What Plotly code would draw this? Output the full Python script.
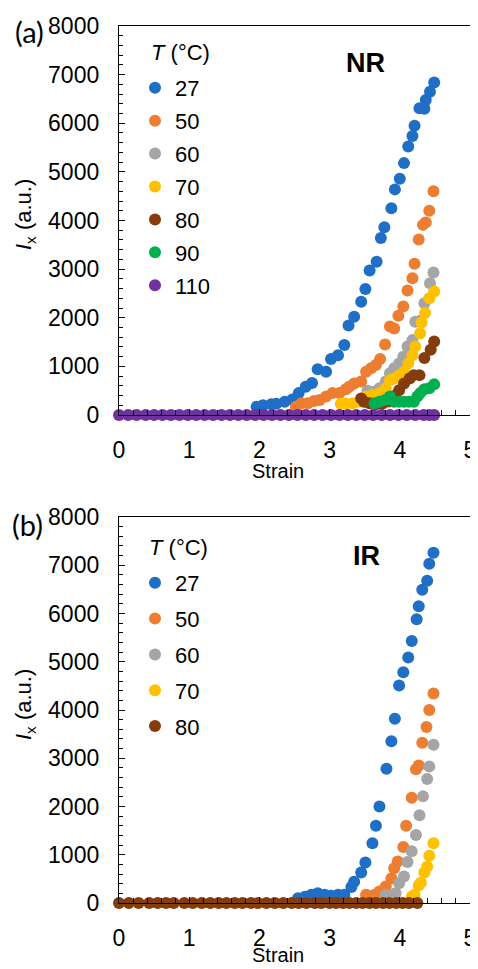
import plotly.graph_objects as go

# The page body has an 8 px default margin, so the figure is placed 8 px in from the top-left.
PAGE_W, PAGE_H = 478, 969
OFF = 8
W, H = PAGE_W - OFF, PAGE_H - OFF

# ---------------- data: (a) NR ----------------
nr_27_strain = [1.96, 2.05, 2.17, 2.24, 2.36, 2.47, 2.56, 2.66, 2.75, 2.83, 2.95, 3.02, 3.12, 3.21, 3.27, 3.35, 3.45,
                3.51, 3.57, 3.67, 3.73, 3.78, 3.88, 3.93, 4.00, 4.06, 4.12, 4.18, 4.21, 4.28, 4.35, 4.37, 4.43, 4.49]
nr_27_ix = [170, 200, 220, 230, 270, 320, 450, 580, 660, 940, 890, 1150, 1230, 1440, 1840, 2020, 2330,
            2590, 2970, 3150, 3640, 3860, 4250, 4640, 4860, 5180, 5520, 5740, 5950, 6310, 6300, 6480, 6650, 6840]

nr_50_strain = [2.52, 2.60, 2.69, 2.78, 2.86, 2.95, 3.04, 3.14, 3.23, 3.28, 3.35, 3.45, 3.52, 3.59, 3.66, 3.72, 3.79,
                3.86, 3.92, 3.98, 4.05, 4.11, 4.18, 4.21, 4.27, 4.33, 4.37, 4.42, 4.48]
nr_50_ix = [170, 240, 240, 290, 310, 380, 450, 450, 530, 580, 650, 690, 890, 960, 1030, 1150, 1450,
            1820, 1780, 2040, 2230, 2560, 2810, 3110, 3610, 3910, 3960, 4200, 4600]

nr_60_strain = [3.45, 3.54, 3.62, 3.71, 3.80, 3.86, 3.92, 3.99, 4.05, 4.11, 4.18, 4.22, 4.29, 4.35, 4.43, 4.48]
nr_60_ix = [330, 500, 480, 550, 690, 860, 960, 1060, 1200, 1410, 1540, 1920, 1940, 2300, 2710, 2930]

nr_70_strain = [3.16, 3.23, 3.33, 3.42, 3.52, 3.61, 3.71, 3.80, 3.86, 3.92, 3.99, 4.06, 4.12, 4.18, 4.22, 4.29,
                4.31, 4.36, 4.42, 4.49]
nr_70_ix = [230, 230, 240, 270, 380, 410, 450, 550, 720, 750, 820, 890, 1060, 1230, 1410, 1680,
            1900, 2100, 2400, 2540]

nr_80_strain = [3.45, 3.49, 3.57, 3.66, 3.75, 3.84, 3.92, 3.99, 4.06, 4.14, 4.20, 4.28, 4.35, 4.44, 4.49]
nr_80_ix = [340, 270, 240, 220, 230, 280, 390, 510, 650, 750, 820, 820, 1170, 1340, 1510]

nr_90_strain = [3.64, 3.71, 3.79, 3.86, 3.92, 3.99, 4.06, 4.13, 4.20, 4.25, 4.29, 4.35, 4.42, 4.49]
nr_90_ix = [240, 270, 310, 380, 270, 270, 270, 270, 270, 380, 450, 530, 550, 630]

nr_110_strain = [0.00, 0.13, 0.25, 0.38, 0.50, 0.62, 0.74, 0.86, 0.98, 1.10, 1.22, 1.34, 1.46, 1.58, 1.70, 1.82,
                 1.94, 2.06, 2.18, 2.30, 2.42, 2.54, 2.66, 2.78, 2.90, 3.02, 3.14, 3.26, 3.38, 3.50, 3.62, 3.74,
                 3.86, 3.98, 4.10, 4.22, 4.34, 4.42, 4.49]
nr_110_ix = [0] * len(nr_110_strain)

# ---------------- data: (b) IR ----------------
ir_27_strain = [2.55, 2.65, 2.74, 2.83, 2.93, 3.02, 3.12, 3.21, 3.31, 3.35, 3.45, 3.51, 3.61, 3.66, 3.71, 3.81,
                3.88, 3.93, 3.99, 4.05, 4.12, 4.17, 4.24, 4.27, 4.32, 4.39, 4.42, 4.48]
ir_27_ix = [100, 130, 170, 200, 170, 150, 170, 170, 330, 440, 630, 840, 1240, 1600, 2000, 2780,
            3350, 3820, 4510, 4780, 5090, 5430, 5880, 6150, 6490, 6680, 7030, 7260]

ir_50_strain = [3.52, 3.64, 3.71, 3.80, 3.88, 3.92, 3.97, 4.05, 4.09, 4.17, 4.23, 4.27, 4.32, 4.38, 4.42, 4.48]
ir_50_ix = [170, 170, 240, 340, 510, 720, 860, 1160, 1600, 2180, 2770, 2850, 3320, 3650, 4000, 4340]

ir_60_strain = [3.80, 3.94, 3.99, 4.06, 4.11, 4.17, 4.23, 4.28, 4.33, 4.39, 4.42, 4.48]
ir_60_ix = [170, 200, 410, 550, 850, 1070, 1410, 1820, 2210, 2570, 2830, 3280]

ir_70_strain = [4.17, 4.21, 4.27, 4.30, 4.35, 4.39, 4.42, 4.48]
ir_70_ix = [130, 170, 370, 420, 630, 750, 980, 1240]

ir_80_strain = [0.00, 0.14, 0.28, 0.43, 0.55, 0.67, 0.78, 0.93, 1.05, 1.18, 1.30, 1.42, 1.53, 1.65, 1.76, 1.88,
                1.98, 2.10, 2.22, 2.34, 2.46, 2.56, 2.67, 2.79, 2.88, 3.00, 3.09, 3.19, 3.28, 3.38, 3.47, 3.57,
                3.66, 3.76, 3.85, 3.95, 4.04, 4.13, 4.25]
ir_80_ix = [0] * len(ir_80_strain)

temps_nr = ["27", "50", "60", "70", "80", "90", "110"]
temps_ir = ["27", "50", "60", "70", "80"]

colors = {"27": "#1F6FC6", "50": "#ED7D31", "60": "#A5A5A5", "70": "#FFC000",
          "80": "#843C0C", "90": "#00B050", "110": "#7030A0"}

nr_series = {
    "27": (nr_27_strain, nr_27_ix), "50": (nr_50_strain, nr_50_ix), "60": (nr_60_strain, nr_60_ix),
    "70": (nr_70_strain, nr_70_ix), "80": (nr_80_strain, nr_80_ix), "90": (nr_90_strain, nr_90_ix),
    "110": (nr_110_strain, nr_110_ix),
}
ir_series = {
    "27": (ir_27_strain, ir_27_ix), "50": (ir_50_strain, ir_50_ix), "60": (ir_60_strain, ir_60_ix),
    "70": (ir_70_strain, ir_70_ix), "80": (ir_80_strain, ir_80_ix),
}

FONT = "Liberation Sans, Arial, sans-serif"
MSIZE = 12
FS = 22
TFS = 23

fig = go.Figure()
for t in temps_nr:
    xs, ys = nr_series[t]
    fig.add_trace(go.Scatter(x=xs, y=ys, mode="markers", name=t, legendgroup="a" + t,
                             marker=dict(size=MSIZE, color=colors[t]), cliponaxis=False,
                             xaxis="x", yaxis="y", legend="legend"))
for t in temps_ir:
    xs, ys = ir_series[t]
    fig.add_trace(go.Scatter(x=xs, y=ys, mode="markers", name=t, legendgroup="b" + t,
                             marker=dict(size=MSIZE, color=colors[t]), cliponaxis=False,
                             xaxis="x2", yaxis="y2", legend="legend2"))


def px_x(p):
    return (p - OFF) / W


def px_y(p):
    return 1 - (p - OFF) / H


common_x = dict(range=[0, 5], dtick=1, ticks="inside", ticklen=6, tickcolor="black",
                showline=True, linecolor="black", linewidth=1.3, mirror=True, automargin=False,
                showgrid=False, zeroline=False, ticklabelstandoff=14,
                tickfont=dict(family=FONT, size=TFS, color="black"),
                minor=dict(dtick=0.2, ticks="inside", ticklen=5, tickcolor="black"))
common_y = dict(range=[0, 8000], dtick=1000, ticks="inside", ticklen=6, tickcolor="black",
                showline=True, linecolor="black", linewidth=1.3, mirror=True, automargin=False,
                showgrid=False, zeroline=False, ticklabelstandoff=14,
                tickfont=dict(family=FONT, size=TFS, color="black"),
                minor=dict(dtick=200, ticks="inside", ticklen=4, tickcolor="black"))

legend_common = dict(font=dict(family=FONT, size=FS, color="black"), bgcolor="rgba(0,0,0,0)",
                     xanchor="left", yanchor="top", itemsizing="constant", borderwidth=0)

fig.update_layout(
    width=W, height=H, margin=dict(l=0, r=0, t=0, b=0, autoexpand=False),
    paper_bgcolor="white", plot_bgcolor="white",
    xaxis=dict(domain=[px_x(119), px_x(470)], anchor="y", **common_x),
    yaxis=dict(domain=[px_y(415), px_y(26)], anchor="x", **common_y),
    xaxis2=dict(domain=[px_x(119), px_x(470)], anchor="y2", **common_x),
    yaxis2=dict(domain=[px_y(903), px_y(517)], anchor="x2", **common_y),
    legend=dict(x=px_x(135), y=px_y(67), tracegroupgap=1.3, **legend_common),
    legend2=dict(x=px_x(135), y=px_y(562), tracegroupgap=4.2, **legend_common),
    showlegend=True,
)

ann = []
def add_text(text, x, y, size, family=FONT, angle=0):
    ann.append(dict(text=text, x=px_x(x), y=px_y(y), xref="paper", yref="paper",
                    xanchor="center", yanchor="middle", showarrow=False, textangle=angle,
                    font=dict(family=family, size=size, color="black")))

add_text("(a)", 29, 31, 29, family="Lato, sans-serif")
add_text("(b)", 27, 524, 29, family="Lato, sans-serif")
add_text("<b>NR</b>", 365, 63, 27)
add_text("<b>IR</b>", 366, 556, 27)
add_text("<i>T</i> (°C)", 180, 52, FS)
add_text("<i>T</i> (°C)", 178, 547, FS)
add_text("<i>I</i><sub>x</sub> (a.u.)", 25, 215, FS, angle=-90)
add_text("<i>I</i><sub>x</sub> (a.u.)", 25, 705, FS, angle=-90)
add_text("Strain", 278, 471, 20)
add_text("Strain", 278, 955, 20)
fig.update_layout(annotations=ann)

fig.write_html("out.html")
